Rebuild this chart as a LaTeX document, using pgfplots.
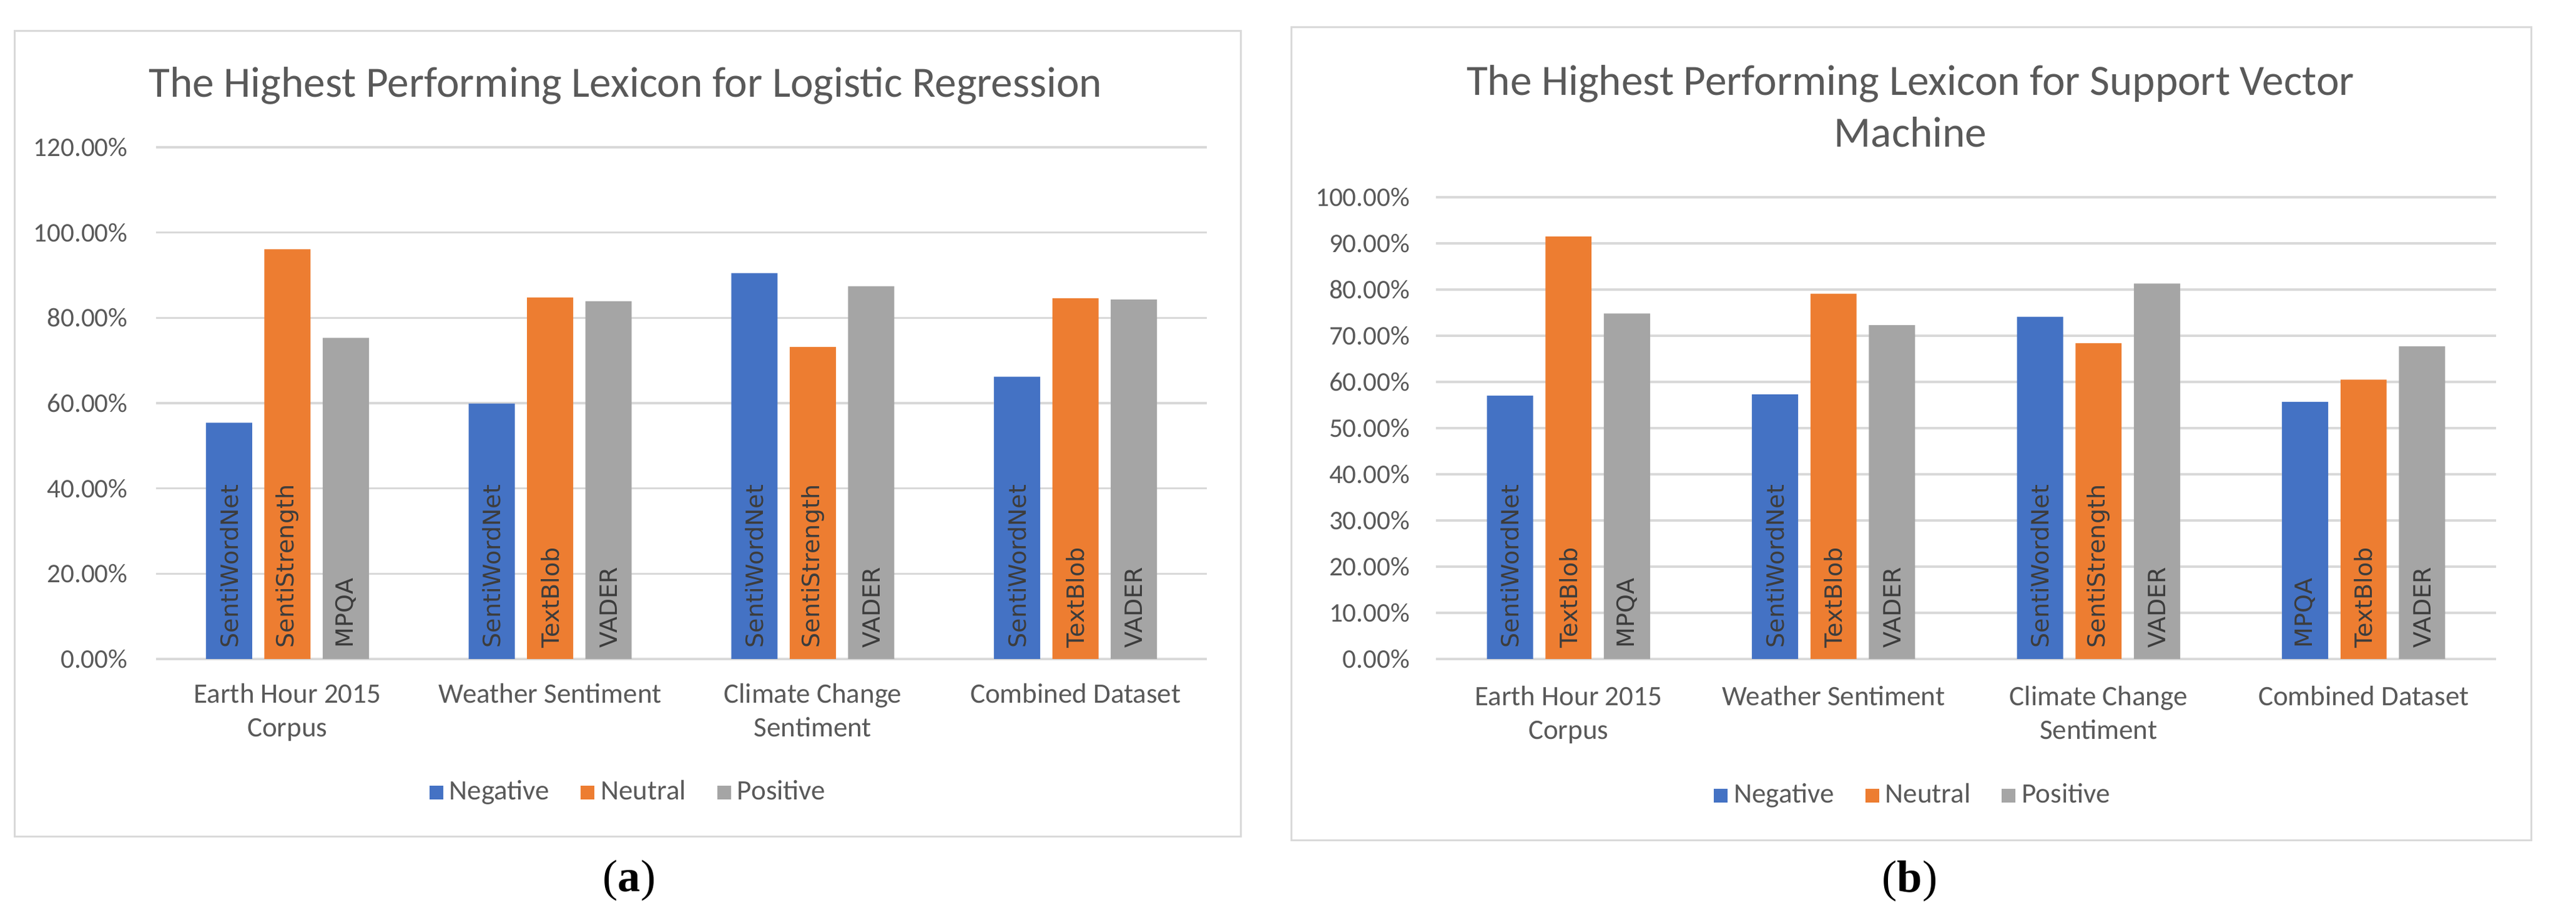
\documentclass[border=0pt]{standalone}
\usepackage{fontspec}
\setmainfont{Carlito}
\newfontfamily\barfont{DejaVu Sans}
\newfontfamily\capfont{Liberation Serif}
\usepackage{pgfplots}
\pgfplotsset{compat=1.18}

\definecolor{cneg}{HTML}{4472C4}
\definecolor{cneu}{HTML}{ED7D31}
\definecolor{cpos}{HTML}{A5A5A5}
\definecolor{txt}{HTML}{595959}
\definecolor{lbl}{HTML}{3C3C3C}
\definecolor{grd}{HTML}{D9D9D9}

\pgfplotsset{
  excelbars/.style={
    scale only axis,
    anchor=south west,
    xmin=-0.5, xmax=3.5,
    ymin=0,
    xtick={0,1,2,3},
    xticklabels={Earth Hour 2015\\Corpus, Weather Sentiment, Climate Change\\Sentiment, Combined Dataset},
    axis line style={draw=none},
    major tick length=0pt,
    ymajorgrids,
    grid style={grd, line width=0.7pt},
    tick label style={text=txt},
    xticklabel style={align=center, font=\fontsize{9}{10.76}\selectfont},
    yticklabel style={font=\fontsize{8.6}{10.3}\selectfont},
    /pgf/number format/assume math mode=true,
    yticklabel={\pgfmathprintnumber[fixed,fixed zerofill,precision=2]{\tick}\%},
    legend columns=3,
    legend style={draw=none, fill=none, anchor=center, text=txt,
      font=\fontsize{9}{10.8}\selectfont,
      /tikz/every even column/.append style={column sep=8pt}},
    legend image code/.code={\fill[##1] (0pt,-2.2pt) rectangle (4.4pt,2.2pt);},
  },
  lexlabel/.style={draw=none, mark=none, forget plot, nodes near coords,
    point meta=explicit symbolic,
    nodes near coords style={rotate=90, anchor=west, text=lbl,
      font=\barfont\fontsize{7.6}{9}\selectfont}},
}

\begin{document}
\begin{tikzpicture}
\useasboundingbox (0pt,0pt) rectangle (825.2pt,295.8pt);

% ---------- panel (a) ----------
\draw[grd, line width=0.6pt] (4.6pt,27.6pt) rectangle (397.4pt,285.8pt);
\node[text=txt, font=\fontsize{13.85}{16.6}\selectfont] at (200.4pt,268.3pt)
  {The Highest Performing Lexicon for Logistic Regression};
\begin{axis}[excelbars,
    at={(50pt,84.6pt)}, width=336.6pt, height=164pt,
    ymax=120, ytick={0,20,...,120},
    xticklabel style={yshift=-4.4pt},
    yticklabel style={xshift=-5.6pt},
    legend style={at={(0.4516,-0.261)}}]
  \addplot[ybar, bar width=0.176, bar shift=-0.222, fill=cneg, draw=none]
    coordinates {(0,55.4) (1,59.9) (2,90.5) (3,66.2)};
  \addplot[ybar, bar width=0.176, bar shift=0, fill=cneu, draw=none]
    coordinates {(0,96.1) (1,84.8) (2,73.2) (3,84.6)};
  \addplot[ybar, bar width=0.176, bar shift=0.222, fill=cpos, draw=none]
    coordinates {(0,75.3) (1,83.9) (2,87.4) (3,84.3)};
  \legend{Negative,Neutral,Positive}
  \addplot[lexlabel] coordinates {(-0.222,0)[SentiWordNet] (0.778,0)[SentiWordNet] (1.778,0)[SentiWordNet] (2.778,0)[SentiWordNet]};
  \addplot[lexlabel] coordinates {(0,0)[SentiStrength] (1,0)[TextBlob] (2,0)[SentiStrength] (3,0)[TextBlob]};
  \addplot[lexlabel] coordinates {(0.222,0)[MPQA] (1.222,0)[VADER] (2.222,0)[VADER] (3.222,0)[VADER]};
\end{axis}
\node[font=\capfont\fontsize{14.5}{16}\selectfont] at (201.6pt,13.5pt) {(\textbf{a})};

% ---------- panel (b) ----------
\draw[grd, line width=0.6pt] (413.6pt,26.4pt) rectangle (810.8pt,287pt);
\node[text=txt, align=center, font=\fontsize{13.85}{16.6}\selectfont] at (612pt,261.7pt)
  {The Highest Performing Lexicon for Support Vector\\Machine};
\begin{axis}[excelbars,
    at={(460pt,84.6pt)}, width=339.6pt, height=148pt,
    ymax=100, ytick={0,10,...,100},
    xticklabel style={yshift=-5.2pt},
    yticklabel style={xshift=-4.9pt},
    legend style={at={(0.452,-0.296)}}]
  \addplot[ybar, bar width=0.174, bar shift=-0.2205, fill=cneg, draw=none]
    coordinates {(0,57.0) (1,57.3) (2,74.1) (3,55.7)};
  \addplot[ybar, bar width=0.174, bar shift=0, fill=cneu, draw=none]
    coordinates {(0,91.5) (1,79.1) (2,68.4) (3,60.5)};
  \addplot[ybar, bar width=0.174, bar shift=0.2205, fill=cpos, draw=none]
    coordinates {(0,74.8) (1,72.3) (2,81.3) (3,67.7)};
  \legend{Negative,Neutral,Positive}
  \addplot[lexlabel] coordinates {(-0.2205,0)[SentiWordNet] (0.7795,0)[SentiWordNet] (1.7795,0)[SentiWordNet] (2.7795,0)[MPQA]};
  \addplot[lexlabel] coordinates {(0,0)[TextBlob] (1,0)[TextBlob] (2,0)[SentiStrength] (3,0)[TextBlob]};
  \addplot[lexlabel] coordinates {(0.2205,0)[MPQA] (1.2205,0)[VADER] (2.2205,0)[VADER] (3.2205,0)[VADER]};
\end{axis}
\node[font=\capfont\fontsize{14.5}{16}\selectfont] at (611.8pt,13.4pt) {(\textbf{b})};
\end{tikzpicture}
\end{document}
